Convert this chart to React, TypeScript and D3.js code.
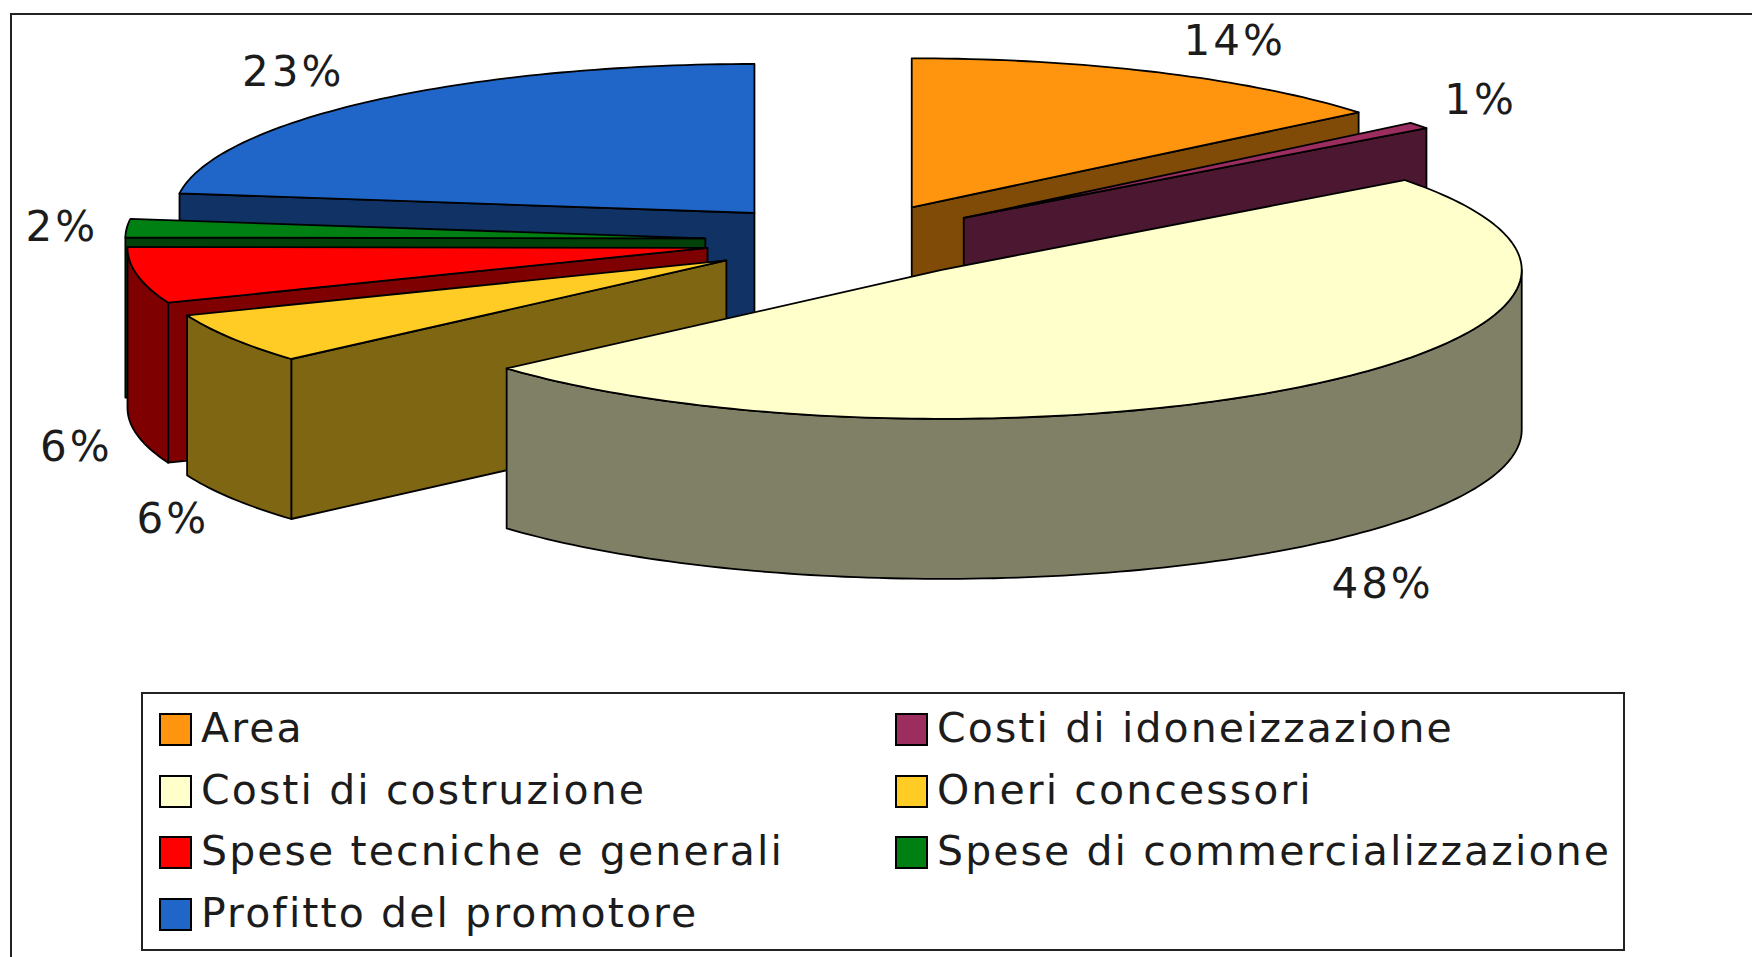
import React from "react";
import * as d3 from "d3";

const categories = [
	"Area",
	"Costi di idoneizzazione",
	"Costi di costruzione",
	"Oneri concessori",
	"Spese tecniche e generali",
	"Spese di commercializzazione",
	"Profitto del promotore",
];
// slice sizes as drawn, and the rounded figures printed next to them
const shares = [14, 0.7, 48.8, 5.5, 6.1, 2, 22.9];
const percentLabels = ["14%", "1%", "48%", "6%", "6%", "2%", "23%"];
const topColors = ["#ff950e", "#9b2d5f", "#ffffcc", "#ffcc26", "#ff0000", "#007f12", "#2066c8"];
const sideColors = ["#7f4b07", "#4c1730", "#808066", "#7f6612", "#7f0000", "#004009", "#103264"];

const width = 1752;
const height = 957;

// pie geometry
const cx = 850;
const cy = 241;
const rx = 580;
const ry = 149;
const depth = 160;
const explode = 0.25;

// back to front
const drawOrder = [6, 0, 1, 5, 4, 3, 2];

// label offset from the rim point at the middle of each slice
const labelNudge = [
	[76, -32],
	[62, -26],
	[74, 38],
	[-59, 20],
	[-61, 11],
	[-65, -2],
	[-79, -29],
];

const xScale = d3.scaleLinear().domain([-1, 1]).range([cx - rx, cx + rx]);
const yScale = d3.scaleLinear().domain([-1, 1]).range([cy - ry, cy + ry]);
const outline = d3.line<number[]>();

const arcs = d3
	.pie<number>()
	.sort(null)
	.startAngle(0)
	.endAngle(2 * Math.PI)(shares);

function sampleAngles(a0: number, a1: number) {
	const n = Math.max(2, Math.ceil((a1 - a0) / 0.02));
	return d3.range(n + 1).map((i) => a0 + ((a1 - a0) * i) / n);
}

function slicePaths(a0: number, a1: number) {
	const mid = (a0 + a1) / 2;
	const ox = explode * Math.sin(mid);
	const oy = -explode * Math.cos(mid);
	const rim = (a: number, drop = 0) => [
		xScale(ox + Math.sin(a)),
		yScale(oy - Math.cos(a)) + drop,
	];
	const apex = (drop = 0) => [xScale(ox), yScale(oy) + drop];

	const top = [apex(), ...sampleAngles(a0, a1).map((a) => rim(a))];
	const sides: number[][][] = [];

	// radial walls, only those turned towards the viewer
	if (Math.sin(a0) < -1e-6) {
		sides.push([apex(), rim(a0), rim(a0, depth), apex(depth)]);
	}
	if (Math.sin(a1) > 1e-6) {
		sides.push([apex(), rim(a1), rim(a1, depth), apex(depth)]);
	}

	// outer wall on the front half
	const f0 = Math.max(a0, Math.PI / 2);
	const f1 = Math.min(a1, (3 * Math.PI) / 2);
	if (f1 > f0) {
		const upper = sampleAngles(f0, f1).map((a) => rim(a));
		const lower = sampleAngles(f0, f1).map((a) => rim(a, depth)).reverse();
		sides.push([...upper, ...lower]);
	}

	return { top, sides, rim };
}

// legend layout
const legendRows = [729, 791, 852, 914];
const legendCols = [175, 911];

export default function App() {
	return (
		<svg
			width={width}
			height={height}
			style={{ position: "absolute", left: 0, top: 0, display: "block", background: "#fff" }}
			fontFamily="'DejaVu Sans'"
		>
			<rect x={11} y={14} width={width + 20} height={height + 20} fill="#fff" stroke="#222" strokeWidth={2} />

			{drawOrder.map((i) => {
				const { top, sides } = slicePaths(arcs[i].startAngle, arcs[i].endAngle);
				return (
					<g key={categories[i]} stroke="#000" strokeWidth={1.8} strokeLinejoin="round">
						{sides.map((s, j) => (
							<path key={j} d={outline(s) + "Z"} fill={sideColors[i]} />
						))}
						<path d={outline(top) + "Z"} fill={topColors[i]} />
					</g>
				);
			})}

			{arcs.map((d, i) => {
				const mid = (d.startAngle + d.endAngle) / 2;
				const { rim } = slicePaths(d.startAngle, d.endAngle);
				const front = Math.cos(mid) < 0 ? depth : 0;
				const [px, py] = rim(mid, front);
				return (
					<text
						key={i}
						x={px + labelNudge[i][0]}
						y={py + labelNudge[i][1]}
						fontSize={42}
						letterSpacing={3}
						fill="#1c1c1c"
						textAnchor="middle"
						dominantBaseline="central"
					>
						{percentLabels[i]}
					</text>
				);
			})}

			<rect x={142} y={693} width={1482} height={257} fill="#fff" stroke="#222" strokeWidth={2} />
			{categories.map((c, i) => {
				const col = legendCols[i % 2];
				const row = legendRows[Math.floor(i / 2)];
				return (
					<g key={c}>
						<rect x={col - 15} y={row - 15} width={31} height={31} fill={topColors[i]} stroke="#000" strokeWidth={2} />
						<text x={col + 26} y={row + 13} fontSize={41} letterSpacing={2.1} fill="#1c1c1c">
							{c}
						</text>
					</g>
				);
			})}
		</svg>
	);
}
